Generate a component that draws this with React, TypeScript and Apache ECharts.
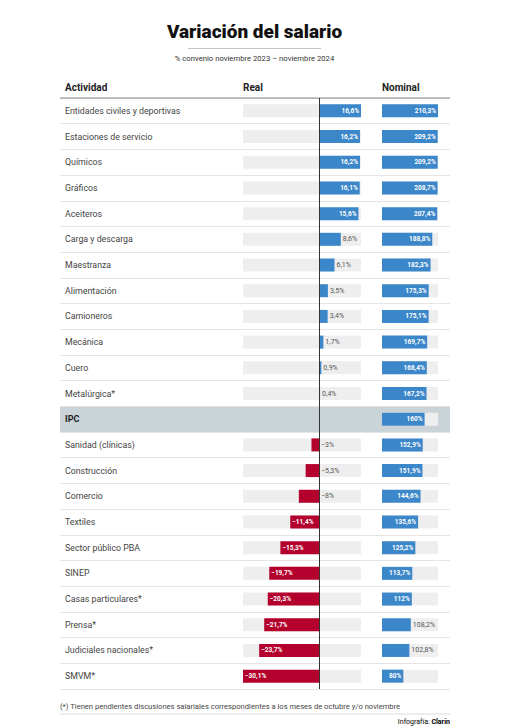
import React, { useEffect, useRef } from "react";
import * as echarts from "echarts";

const categories = [
  "Entidades civiles y deportivas",
  "Estaciones de servicio",
  "Químicos",
  "Gráficos",
  "Aceiteros",
  "Carga y descarga",
  "Maestranza",
  "Alimentación",
  "Camioneros",
  "Mecánica",
  "Cuero",
  "Metalúrgica*",
  "IPC",
  "Sanidad (clínicas)",
  "Construcción",
  "Comercio",
  "Textiles",
  "Sector público PBA",
  "SINEP",
  "Casas particulares*",
  "Prensa*",
  "Judiciales nacionales*",
  "SMVM*",
];

const realValues: (number | null)[] = [
  16.6, 16.2, 16.2, 16.1, 15.6, 8.6, 6.1, 3.5, 3.4, 1.7, 0.9, 0.4, null,
  -3, -5.3, -8, -11.4, -15.3, -19.7, -20.3, -21.7, -23.7, -30.1,
];

const nominalValues = [
  210.3, 209.2, 209.2, 208.7, 207.4, 188.8, 182.3, 175.3, 175.1, 169.7, 168.4,
  167.2, 160, 152.9, 151.9, 144.6, 135.6, 125.2, 113.7, 112, 108.2, 102.8, 80,
];

const highlightRow = "IPC";
const nominalOutsideLabels = ["Prensa*", "Judiciales nacionales*"];
const realMin = -30.1;
const realMax = 16.6;
const nominalMax = 210.3;

const BLUE = "#3b87c9";
const RED = "#b3002d";
const BG = "#eeeeee";
const SANS = "Roboto,'Noto Sans',sans-serif";

const fmt = (v: number) =>
  (v < 0 ? "−" : "") + String(Math.abs(v)).replace(".", ",") + "%";

export default function App() {
  const ref = useRef<HTMLDivElement>(null);
  useEffect(() => {
    if (!ref.current) return;
    const chart = echarts.init(ref.current, undefined, { renderer: "svg" });

    const labelFormatter = (p: any) => fmt(Number(p.value));
    const insideLabel = (pos: string) => ({
      show: true,
      position: pos,
      distance: 2,
      color: "#ffffff",
      fontFamily: SANS,
      fontWeight: "bold",
      fontSize: 6.5,
      formatter: labelFormatter,
    });
    const outsideLabel = (pos: string) => ({
      show: true,
      position: pos,
      distance: 2,
      color: "#555555",
      fontFamily: SANS,
      fontWeight: "normal",
      fontSize: 7,
      formatter: labelFormatter,
    });

    const realData = realValues.map((v) => {
      if (v == null) return { value: "-" as any };
      const inside = Math.abs(v) >= 10;
      const pos = inside ? (v >= 0 ? "insideRight" : "insideLeft") : "right";
      return {
        value: v,
        itemStyle: { color: v >= 0 ? BLUE : RED },
        label: inside ? insideLabel(pos) : outsideLabel(pos),
      };
    });

    const nominalData = nominalValues.map((v, i) => {
      const outside = nominalOutsideLabels.includes(categories[i]);
      return {
        value: v,
        label: outside ? outsideLabel("right") : insideLabel("insideRight"),
      };
    });

    const bgNeg = categories.map((c) => (c === highlightRow ? "-" : realMin));
    const bgPos = categories.map((c) => (c === highlightRow ? "-" : realMax));
    const rowBg = categories.map((c) => (c === highlightRow ? 1 : "-"));

    const top = 98;
    const height = 591;

    const option: any = {
      animation: false,
      grid: [
        { left: 60, width: 390, top, height },
        { left: 243, width: 118, top, height },
        { left: 382, width: 56, top, height },
      ],
      xAxis: [
        { gridIndex: 0, type: "value", min: 0, max: 1, show: false },
        { gridIndex: 1, type: "value", min: realMin, max: realMax, show: false },
        { gridIndex: 2, type: "value", min: 0, max: nominalMax, show: false },
      ],
      yAxis: [
        {
          gridIndex: 0,
          type: "category",
          inverse: true,
          data: categories,
          z: 5,
          axisLine: { show: false },
          axisTick: { show: false },
          splitLine: { show: true, lineStyle: { color: "#e4e4e4", width: 1 } },
          axisLabel: {
            inside: true,
            margin: 5,
            align: "left",
            fontFamily: SANS,
            fontSize: 8.8,
            color: "#444",
            formatter: (v: string) => (v === highlightRow ? `{b|${v}}` : v),
            rich: {
              b: { fontFamily: SANS, fontSize: 9, fontWeight: "bold", color: "#222" },
            },
          },
        },
        {
          gridIndex: 1,
          type: "category",
          inverse: true,
          data: categories,
          axisLine: { show: false },
          axisTick: { show: false },
          axisLabel: { show: false },
          splitLine: { show: false },
        },
        {
          gridIndex: 2,
          type: "category",
          inverse: true,
          data: categories,
          axisLine: { show: false },
          axisTick: { show: false },
          axisLabel: { show: false },
          splitLine: { show: false },
        },
      ],
      series: [
        {
          type: "bar",
          xAxisIndex: 0,
          yAxisIndex: 0,
          data: rowBg,
          barWidth: "100%",
          itemStyle: { color: "#c9d3d8" },
          silent: true,
          z: 0,
        },
        {
          type: "bar",
          xAxisIndex: 1,
          yAxisIndex: 1,
          data: bgNeg,
          barWidth: 13,
          barGap: "-100%",
          itemStyle: { color: BG },
          silent: true,
          z: 2,
        },
        {
          type: "bar",
          xAxisIndex: 1,
          yAxisIndex: 1,
          data: bgPos,
          barWidth: 13,
          barGap: "-100%",
          itemStyle: { color: BG },
          silent: true,
          z: 2,
        },
        {
          type: "bar",
          xAxisIndex: 1,
          yAxisIndex: 1,
          data: realData,
          barWidth: 13,
          barGap: "-100%",
          z: 3,
          markLine: {
            silent: true,
            symbol: "none",
            z: 20,
            label: { show: false },
            lineStyle: { color: "#333", width: 1, type: "solid" },
            data: [{ xAxis: 0 }],
          },
        },
        {
          type: "bar",
          xAxisIndex: 2,
          yAxisIndex: 2,
          data: nominalData,
          barWidth: 13,
          showBackground: true,
          backgroundStyle: { color: BG },
          itemStyle: { color: BLUE },
          z: 3,
        },
      ],
      graphic: [
        {
          type: "text",
          x: 254.5,
          y: 31,
          style: {
            text: "Variación del salario",
            fontFamily: SANS,
            fontSize: 19,
            fontWeight: 900,
            fill: "#111",
            textAlign: "center",
            textVerticalAlign: "middle",
          },
        },
        {
          type: "line",
          shape: { x1: 188, y1: 48.5, x2: 321, y2: 48.5 },
          style: { stroke: "#c4c4c4", lineWidth: 1 },
        },
        {
          type: "text",
          x: 254.5,
          y: 58,
          style: {
            text: "% convenio noviembre 2023 – noviembre 2024",
            fontFamily: SANS,
            fontSize: 7.7,
            fill: "#333",
            textAlign: "center",
            textVerticalAlign: "middle",
          },
        },
        {
          type: "text",
          x: 65,
          y: 87,
          style: {
            text: "Actividad",
            fontFamily: SANS,
            fontSize: 10,
            fontWeight: "bold",
            fill: "#222",
            textVerticalAlign: "middle",
          },
        },
        {
          type: "text",
          x: 243,
          y: 87,
          style: {
            text: "Real",
            fontFamily: SANS,
            fontSize: 10,
            fontWeight: "bold",
            fill: "#222",
            textVerticalAlign: "middle",
          },
        },
        {
          type: "text",
          x: 382,
          y: 87,
          style: {
            text: "Nominal",
            fontFamily: SANS,
            fontSize: 10,
            fontWeight: "bold",
            fill: "#222",
            textVerticalAlign: "middle",
          },
        },
        {
          type: "line",
          z: 20,
          shape: { x1: 60, y1: 98, x2: 450, y2: 98 },
          style: { stroke: "#888", lineWidth: 1.2 },
        },
        {
          type: "text",
          x: 60,
          y: 706,
          style: {
            text: "(*) Tienen pendientes discusiones salariales correspondientes a los meses de octubre y/o noviembre",
            fontFamily: SANS,
            fontSize: 7.6,
            fill: "#444",
            textVerticalAlign: "middle",
          },
        },
        {
          type: "line",
          shape: { x1: 60, y1: 714, x2: 450, y2: 714 },
          style: { stroke: "#dddddd", lineWidth: 1 },
        },
        {
          type: "text",
          x: 450,
          y: 722,
          style: {
            text: "{a|Infografía: }{b|Clarín}",
            textAlign: "right",
            textVerticalAlign: "middle",
            rich: {
              a: { fontFamily: SANS, fontSize: 7, color: "#444" },
              b: { fontFamily: SANS, fontSize: 7, fontWeight: "bold", color: "#111" },
            },
          },
        },
      ],
    };
    chart.setOption(option);
    return () => chart.dispose();
  }, []);

  return (
    <div
      ref={ref}
      style={{ position: "absolute", left: 0, top: 0, width: 509, height: 728, background: "#fff" }}
    />
  );
}
